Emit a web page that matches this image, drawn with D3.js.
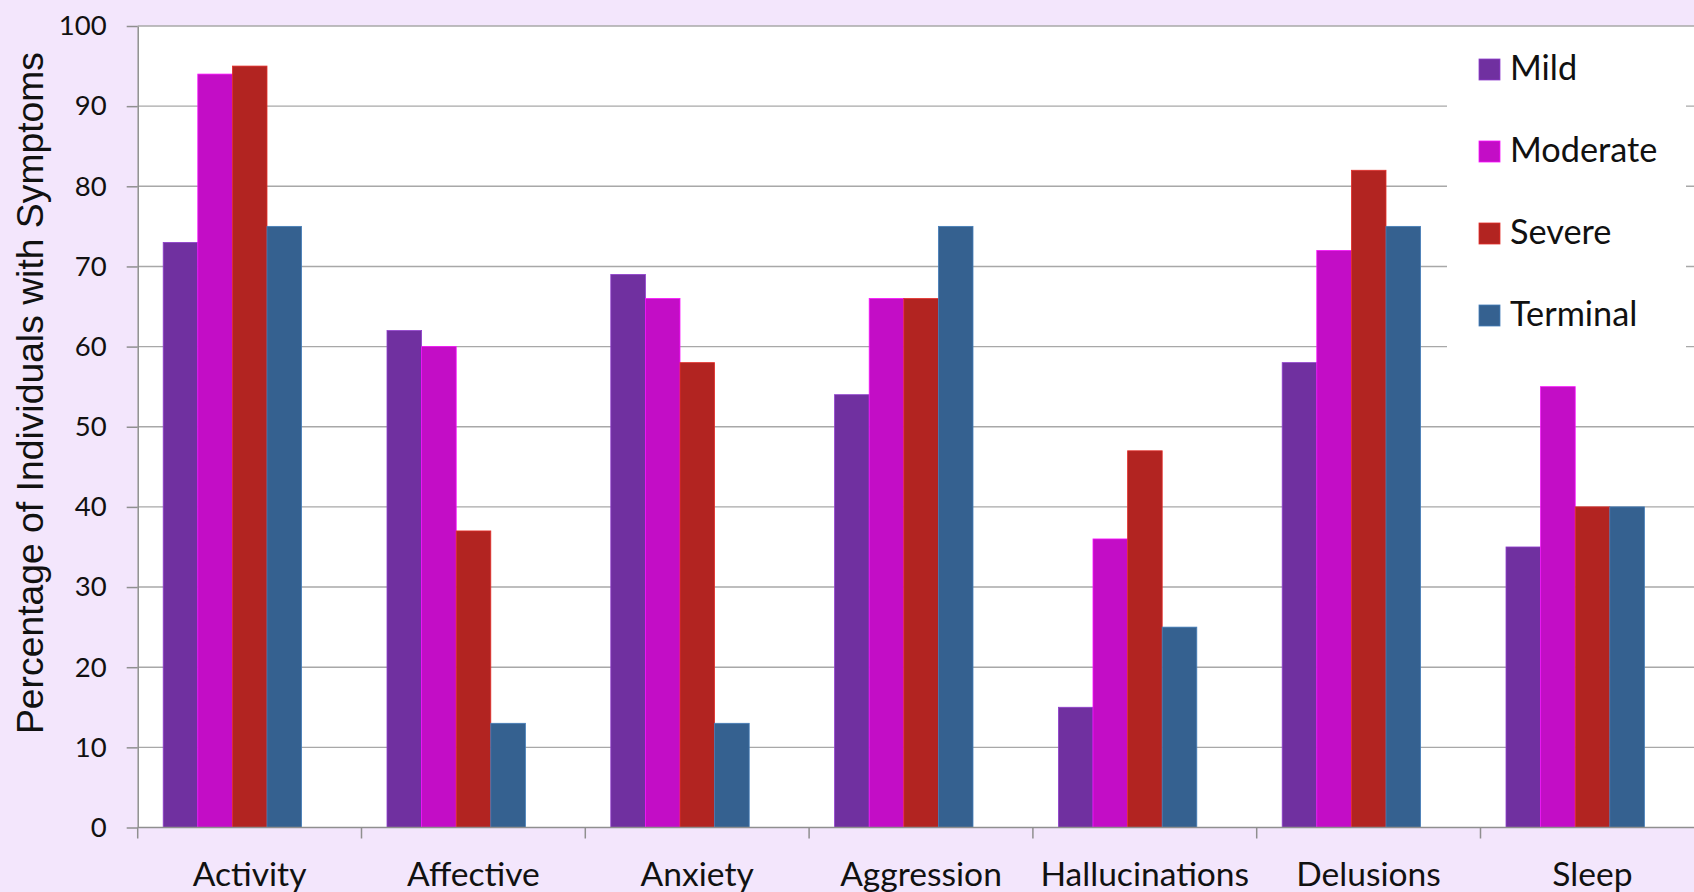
<!DOCTYPE html>
<html>
<head>
<meta charset="utf-8">
<script src="https://cdn.jsdelivr.net/npm/d3@7"></script>
<style>
  html, body { margin: 0; padding: 0; background: #f3e6fc; overflow: hidden; }
  svg { display: block; }
</style>
</head>
<body>
<svg id="chart" width="1694" height="892"></svg>
<script>
// Symptom categories along the x axis
const categories = ["Activity", "Affective", "Anxiety", "Aggression", "Hallucinations", "Delusions", "Sleep"];
// Disease stages (one bar each per category)
const stages = ["Mild", "Moderate", "Severe", "Terminal"];
// Percentage of individuals with each symptom, per stage
const mild     = [73, 62, 69, 54, 15, 58, 35];
const moderate = [94, 60, 66, 66, 36, 72, 55];
const severe   = [95, 37, 58, 66, 47, 82, 40];
const terminal = [75, 13, 13, 75, 25, 75, 40];
const yTicks = [0, 10, 20, 30, 40, 50, 60, 70, 80, 90, 100];
const yTitle = "Percentage of Individuals with Symptoms";

const stageValues = { Mild: mild, Moderate: moderate, Severe: severe, Terminal: terminal };
const colors = { Mild: "#7030a0", Moderate: "#c30dc6", Severe: "#b22421", Terminal: "#356190" };

const svg = d3.select("#chart");
const W = 1694, H = 892;
const plot = { left: 137.7, top: 26, bottom: 827.5, step: 223.8 };
plot.right = plot.left + plot.step * categories.length;

const x = d3.scaleBand().domain(categories).range([plot.left, plot.right]).padding(0);
const groupOffset = 25.5, groupWidth = 138.4;
const xs = d3.scaleBand().domain(stages).range([0, groupWidth]).padding(0);
const y = d3.scaleLinear().domain([0, 100]).range([plot.bottom, plot.top]);

// plot background
svg.append("rect")
  .attr("x", plot.left).attr("y", plot.top)
  .attr("width", W - plot.left + 20).attr("height", plot.bottom - plot.top)
  .attr("fill", "#ffffff");

// horizontal gridlines
svg.append("g").selectAll("line").data(yTicks.filter(d => d > 0)).join("line")
  .attr("x1", plot.left).attr("x2", W + 20)
  .attr("y1", d => y(d)).attr("y2", d => y(d))
  .attr("stroke", "#a8a8a8").attr("stroke-width", 1.4);

// legend panel sits over the gridlines
const legend = svg.append("g");
legend.append("rect")
  .attr("x", 1447).attr("y", 40).attr("width", 239).attr("height", 322)
  .attr("fill", "#ffffff");

// bars
const groups = svg.append("g").selectAll("g").data(categories).join("g")
  .attr("transform", d => `translate(${x(d) + groupOffset},0)`);
groups.selectAll("rect")
  .data((c, i) => stages.map(s => ({ stage: s, value: stageValues[s][i] })))
  .join("rect")
  .attr("x", d => xs(d.stage))
  .attr("width", xs.bandwidth())
  .attr("y", d => y(d.value))
  .attr("height", d => y(0) - y(d.value))
  .attr("fill", d => colors[d.stage])
  .attr("stroke", d => d3.color(colors[d.stage]).brighter(0.7))
  .attr("stroke-width", 0.8);

// y axis
const yAxis = svg.append("g")
  .attr("transform", `translate(${plot.left},0)`)
  .call(d3.axisLeft(y).tickValues(yTicks).tickSize(11).tickPadding(20).tickSizeOuter(0));
yAxis.select(".domain").attr("stroke", "#8f8f8f").attr("stroke-width", 1.5);
yAxis.selectAll(".tick line").attr("stroke", "#8f8f8f").attr("stroke-width", 1.5);
yAxis.selectAll(".tick text")
  .attr("font-family", "Lato, sans-serif").attr("font-size", 27.5).attr("fill", "#111");

// x axis: labels centred on each category
const xAxis = svg.append("g")
  .attr("transform", `translate(0,${plot.bottom})`)
  .call(d3.axisBottom(x).tickSize(0).tickSizeOuter(0));
xAxis.select(".domain").attr("d", `M${plot.left},0H${W + 20}`)
  .attr("stroke", "#8f8f8f").attr("stroke-width", 1.5);
xAxis.selectAll(".tick text")
  .attr("font-family", "Lato, sans-serif").attr("font-size", 33.6).attr("fill", "#111")
  .attr("y", 58).attr("dy", 0);
// boundary tick marks between categories
svg.append("g").selectAll("line").data(categories).join("line")
  .attr("x1", d => x(d)).attr("x2", d => x(d))
  .attr("y1", plot.bottom).attr("y2", plot.bottom + 11)
  .attr("stroke", "#8f8f8f").attr("stroke-width", 1.5);

// y axis title
svg.append("text")
  .attr("transform", `translate(43,393) rotate(-90)`)
  .attr("text-anchor", "middle")
  .attr("font-family", "'Liberation Sans', Arial, sans-serif")
  .attr("font-size", 37.3).attr("fill", "#111")
  .text(yTitle);

// legend entries
const ly = d3.scalePoint().domain(stages).range([80, 326]);
const items = legend.selectAll("g.item").data(stages).join("g").attr("class", "item")
  .attr("transform", d => `translate(1479,${ly(d)})`);
items.append("rect")
  .attr("x", 0).attr("y", -21).attr("width", 21).attr("height", 21)
  .attr("fill", d => colors[d])
  .attr("stroke", d => d3.color(colors[d]).brighter(0.7)).attr("stroke-width", 0.8);
items.append("text")
  .attr("x", 31).attr("y", 0)
  .attr("font-family", "Lato, sans-serif").attr("font-size", 34.3).attr("fill", "#111")
  .text(d => d);
</script>
</body>
</html>
